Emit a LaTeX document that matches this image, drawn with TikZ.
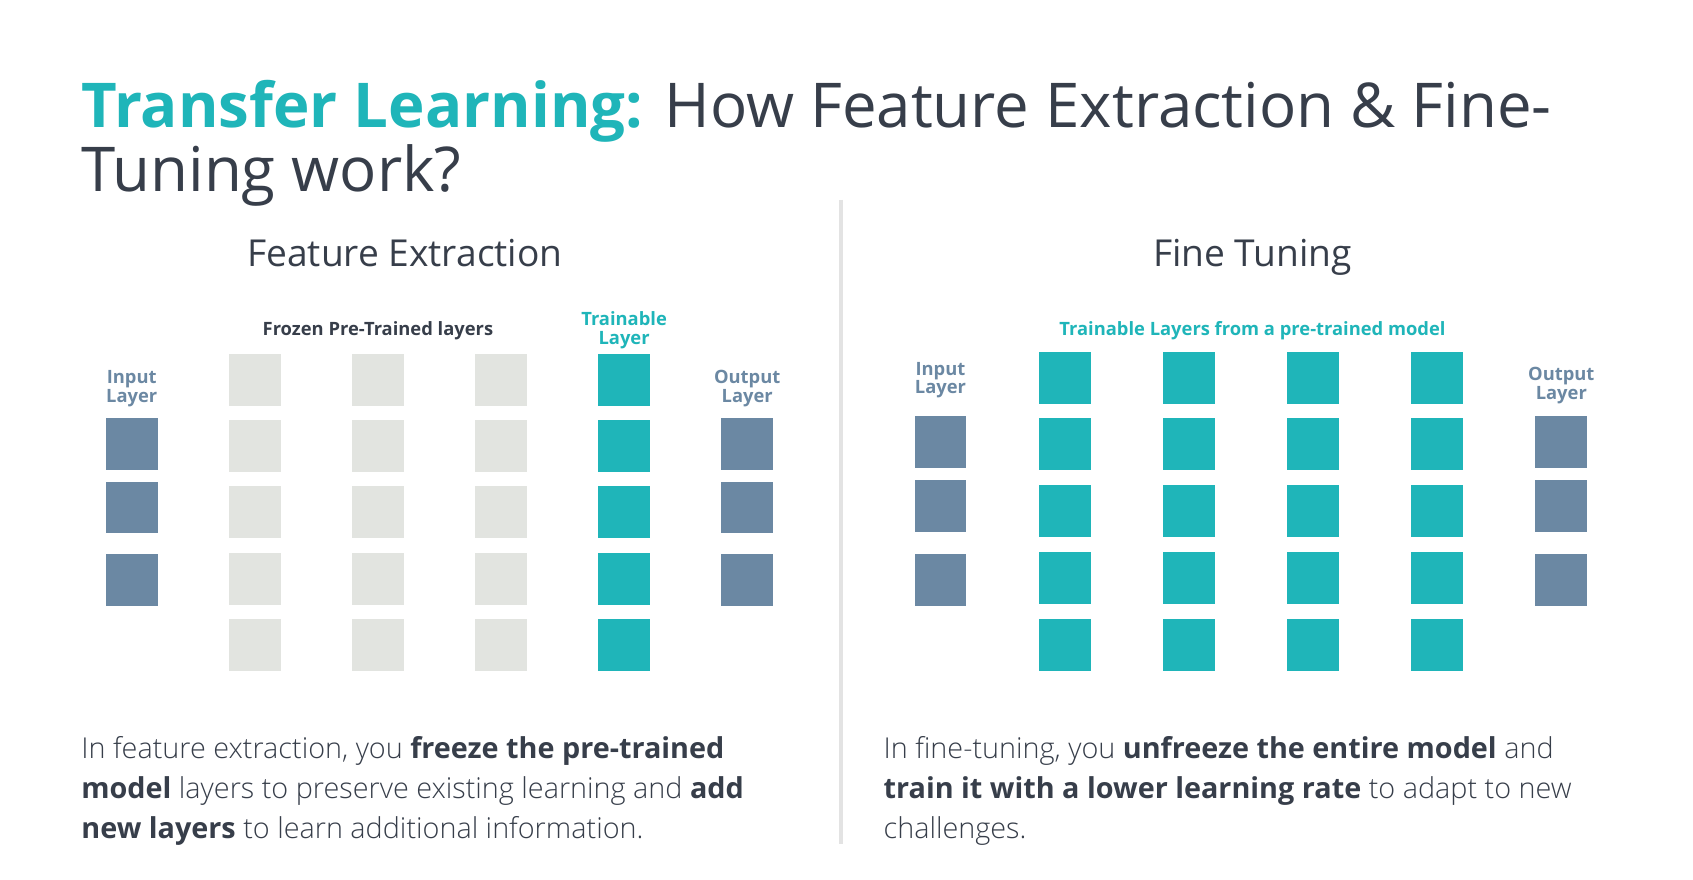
\documentclass[tikz,border=0pt]{standalone}
\usepackage{fontspec}
\setmainfont{Open Sans}
\newfontfamily\lightfont{Open Sans Light}
\usetikzlibrary{positioning}

\definecolor{brandteal}{HTML}{1FB5B9}
\definecolor{slate}{HTML}{6B88A3}
\definecolor{frozengray}{HTML}{E2E4E0}
\definecolor{inkdark}{HTML}{373E4A}
\definecolor{rulegray}{HTML}{E3E3E3}

\newcommand{\keyword}[1]{{\normalfont\bfseries #1}}

\begin{document}
\begin{tikzpicture}[
    x=0.5pt, y=-0.5pt,
    sq/.style={rectangle, minimum width=24pt, minimum height=24pt, inner sep=0pt},
    inputsq/.style={sq, fill=slate},
    frozensq/.style={sq, fill=frozengray},
    trainsq/.style={sq, fill=brandteal},
    heading/.style={inner sep=0pt, anchor=base, text=inkdark, font=\fontsize{17.2}{21}\selectfont},
    layerlabel/.style={inner sep=0pt, align=center, text=slate, font=\bfseries\fontsize{8.5}{8.5}\selectfont},
    grouplabel/.style={inner sep=0pt, align=center, font=\bfseries\fontsize{8.5}{8.5}\selectfont},
    bodytext/.style={inner sep=0pt, align=left, anchor=north west, text=inkdark, font=\lightfont\fontsize{13.33}{18.5}\selectfont}
]
    \useasboundingbox[fill=white] (0,0) rectangle (1568,815);

    % title
    \node[inner sep=0pt, anchor=north west, align=left, text=inkdark,
          font=\fontsize{28.6}{27.2}\selectfont] (title) at (75,74)
        {\textcolor{brandteal}{\bfseries Transfer Learning:} How Feature Extraction \& Fine-\\Tuning work?};

    % divider
    \coordinate (divtop) at (779,185);
    \coordinate (divbot) at (779,782);
    \draw[rulegray, line width=1.5pt] (divtop) -- (divbot);

    % feature extraction
    \node[heading] (fehead) at (375,247) {Feature Extraction};
    \node[grouplabel, text=inkdark] (frozenlabel) at (350,306) {Frozen Pre-Trained layers};
    \node[grouplabel, text=brandteal] (felabel) at (578,306) {Trainable\\Layer};
    \node[layerlabel] (feinlabel) at (122,360) {Input\\Layer};
    \node[layerlabel] (feoutlabel) at (692,360) {Output\\Layer};

    \foreach \c/\x in {1/236,2/350,3/464}
        \foreach \r/\y in {1/352,2/413,3/474,4/536,5/597}
            \node[frozensq] (fz\c\r) at (\x,\y) {};
    \foreach \r/\y in {1/352,2/413,3/474,4/536,5/597}
        \node[trainsq] (fetr\r) at (578,\y) {};
    \foreach \r/\y in {1/411,2/470,3/537} {
        \node[inputsq] (fein\r) at (122,\y) {};
        \node[inputsq] (feout\r) at (692,\y) {};
    }

    \node[bodytext] (fetext) at (75,682)
        {In feature extraction, you \keyword{freeze the pre-trained}\\
         \keyword{model} layers to preserve existing learning and \keyword{add}\\
         \keyword{new layers} to learn additional information.};

    % fine tuning
    \node[heading] (fthead) at (1160,247) {Fine Tuning};
    \node[grouplabel, text=brandteal] (ftlabel) at (1160,306) {Trainable Layers from a pre-trained model};
    \node[layerlabel] (ftinlabel) at (871,352) {Input\\Layer};
    \node[layerlabel] (ftoutlabel) at (1446,357) {Output\\Layer};

    \foreach \c/\x in {1/986,2/1101,3/1216,4/1331}
        \foreach \r/\y in {1/350,2/411,3/473,4/535,5/597}
            \node[trainsq] (ft\c\r) at (\x,\y) {};
    \foreach \r/\y in {1/409,2/469,3/537} {
        \node[inputsq] (ftin\r) at (871,\y) {};
        \node[inputsq] (ftout\r) at (1446,\y) {};
    }

    \node[bodytext] (fttext) at (818,682)
        {In fine-tuning, you \keyword{unfreeze the entire model} and\\
         \keyword{train it with a lower learning rate} to adapt to new\\
         challenges.};
\end{tikzpicture}
\end{document}
